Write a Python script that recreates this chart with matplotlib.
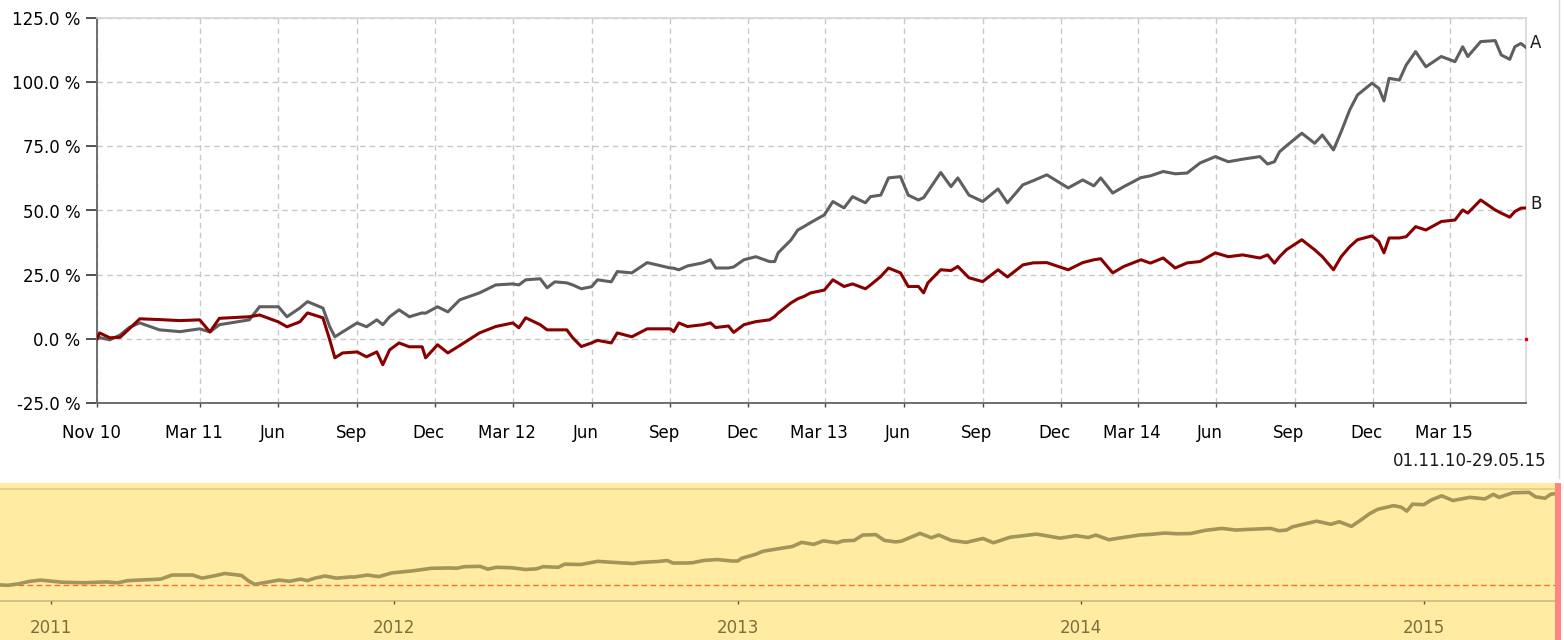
import matplotlib
matplotlib.use("Agg")
import matplotlib.pyplot as plt
import matplotlib.transforms as mtrans
import pandas as pd

# ---- data ----
DATES = [
    "2010-11-01", "2010-11-04", "2010-11-16", "2010-11-28", "2010-12-09", "2010-12-21",
    "2011-01-13", "2011-02-06", "2011-03-01", "2011-03-13", "2011-03-24", "2011-04-28",
    "2011-05-10", "2011-06-01", "2011-06-11", "2011-06-26", "2011-07-05", "2011-07-23",
    "2011-07-31", "2011-08-06", "2011-08-15", "2011-09-01", "2011-09-12", "2011-09-24",
    "2011-10-01", "2011-10-09", "2011-10-20", "2011-11-01", "2011-11-16", "2011-11-20",
    "2011-12-04", "2011-12-16", "2011-12-30", "2012-01-22", "2012-02-10", "2012-03-01",
    "2012-03-08", "2012-03-16", "2012-04-02", "2012-04-10", "2012-04-19", "2012-05-03",
    "2012-05-10", "2012-05-20", "2012-06-01", "2012-06-08", "2012-06-24", "2012-07-01",
    "2012-07-18", "2012-08-05", "2012-09-01", "2012-09-05", "2012-09-11", "2012-09-21",
    "2012-10-09", "2012-10-18", "2012-10-24", "2012-11-08", "2012-11-14", "2012-11-26",
    "2012-12-10", "2012-12-26", "2013-01-01", "2013-01-05", "2013-01-20", "2013-01-28",
    "2013-02-04", "2013-02-12", "2013-02-28", "2013-03-10", "2013-03-23", "2013-04-02",
    "2013-04-17", "2013-04-23", "2013-05-05", "2013-05-14", "2013-05-28", "2013-06-06",
    "2013-06-18", "2013-06-24", "2013-06-29", "2013-07-14", "2013-07-26", "2013-08-03",
    "2013-08-16", "2013-09-01", "2013-09-19", "2013-09-30", "2013-10-18", "2013-10-30",
    "2013-11-15", "2013-12-10", "2013-12-27", "2014-01-09", "2014-01-17", "2014-01-31",
    "2014-02-13", "2014-03-05", "2014-03-16", "2014-03-31", "2014-04-14", "2014-04-28",
    "2014-05-13", "2014-05-31", "2014-06-15", "2014-07-02", "2014-07-22", "2014-07-31",
    "2014-08-08", "2014-08-14", "2014-08-22", "2014-09-09", "2014-09-24", "2014-10-03",
    "2014-10-16", "2014-10-25", "2014-11-04", "2014-11-13", "2014-11-30", "2014-12-08",
    "2014-12-14", "2014-12-20", "2015-01-01", "2015-01-09", "2015-01-20", "2015-02-01",
    "2015-02-19", "2015-03-07", "2015-03-16", "2015-03-22", "2015-04-06", "2015-04-23",
    "2015-04-30", "2015-05-10", "2015-05-16", "2015-05-23", "2015-05-29",
]

SERIES_A = [
    0.0, 0.5, -0.4, 1.5, 4.5, 6.2,
    3.5, 2.8, 3.9, 2.7, 5.5, 7.4,
    12.5, 12.5, 8.6, 12.0, 14.5, 12.0,
    4.7, 0.8, 2.7, 6.2, 4.7, 7.4,
    5.5, 8.6, 11.3, 8.6, 10.1, 10.0,
    12.5, 10.5, 15.2, 17.9, 21.0, 21.4,
    21.0, 23.0, 23.4, 19.9, 22.2, 21.8,
    21.0, 19.5, 20.3, 23.0, 22.2, 26.2,
    25.7, 29.7, 27.6, 27.5, 26.9, 28.4,
    29.6, 30.8, 27.6, 27.6, 28.0, 30.8,
    32.0, 30.1, 30.1, 33.5, 38.5, 42.4,
    43.7, 45.3, 48.3, 53.5, 51.0, 55.4,
    53.0, 55.4, 56.0, 62.7, 63.2, 56.0,
    54.1, 55.0, 57.4, 64.8, 59.3, 62.7,
    56.0, 53.5, 58.4, 53.0, 60.0, 61.6,
    63.9, 58.8, 61.9, 59.6, 62.7, 56.8,
    59.3, 62.8, 63.5, 65.2, 64.3, 64.6,
    68.5, 71.0, 69.0, 70.0, 71.0, 68.1,
    69.0, 72.9, 75.2, 80.1, 76.2, 79.4,
    73.6, 80.7, 89.2, 95.0, 99.6, 97.6,
    92.7, 101.5, 100.8, 106.7, 111.9, 106.0,
    110.0, 108.0, 113.8, 110.0, 115.8, 116.2,
    110.6, 108.9, 113.8, 115.1, 113.5,
]

SERIES_B = [
    0.0, 2.3, 0.4, 0.6, 4.0, 7.8,
    7.5, 7.1, 7.4, 2.7, 8.0, 8.6,
    9.3, 6.6, 4.7, 6.6, 10.1, 8.2,
    -0.4, -7.4, -5.5, -5.1, -7.0, -5.1,
    -10.1, -4.3, -1.6, -3.1, -3.1, -7.4,
    -2.3, -5.5, -2.6, 2.3, 4.8, 6.2,
    4.3, 8.2, 5.5, 3.5, 3.5, 3.5,
    0.4, -3.0, -1.6, -0.6, -1.6, 2.3,
    0.8, 3.9, 3.9, 2.8, 6.2, 4.8,
    5.5, 6.2, 4.4, 5.0, 2.5, 5.5,
    6.7, 7.4, 8.7, 10.0, 14.0, 15.6,
    16.5, 17.9, 19.0, 23.0, 20.4, 21.4,
    19.5, 21.0, 24.3, 27.6, 25.7, 20.4,
    20.4, 17.9, 21.8, 26.9, 26.6, 28.2,
    23.8, 22.3, 26.9, 24.1, 28.8, 29.6,
    29.7, 26.9, 29.7, 30.8, 31.2, 25.7,
    28.2, 30.8, 29.5, 31.5, 27.6, 29.6,
    30.1, 33.5, 32.0, 32.7, 31.5, 32.7,
    29.5, 32.0, 34.7, 38.6, 34.7, 32.0,
    26.9, 32.0, 35.9, 38.6, 40.1, 37.9,
    33.5, 39.3, 39.3, 39.8, 43.7, 42.4,
    45.7, 46.3, 50.2, 49.0, 54.1, 50.2,
    49.0, 47.4, 49.6, 50.9, 51.0,
]

SERIES_NAMES = ["A", "B"]

TICK_DATES = [
    "2010-11-01", "2011-03-01", "2011-06-01", "2011-09-01", "2011-12-01",
    "2012-03-01", "2012-06-01", "2012-09-01", "2012-12-01",
    "2013-03-01", "2013-06-01", "2013-09-01", "2013-12-01",
    "2014-03-01", "2014-06-01", "2014-09-01", "2014-12-01", "2015-03-01",
]
TICK_LABELS = [
    "Nov 10", "Mar 11", "Jun", "Sep", "Dec",
    "Mar 12", "Jun", "Sep", "Dec",
    "Mar 13", "Jun", "Sep", "Dec",
    "Mar 14", "Jun", "Sep", "Dec", "Mar 15",
]
Y_TICKS = [-25, 0, 25, 50, 75, 100, 125]
NAV_YEARS = ["2011-01-01", "2012-01-01", "2013-01-01", "2014-01-01", "2015-01-01"]
RANGE_TEXT = "01.11.10-29.05.15"

# ---- style ----
GREY = "#5f5f5f"
DARKRED = "#880000"
GRID = "#c8c8c8"
NAV_BG = "#ffeba2"
NAV_LINE = "#a3955a"
NAV_TEXT = "#7d6f3c"

plt.rcParams.update({
    "font.family": "DejaVu Sans",
    "font.size": 12,
    "text.color": "#1a1a1a",
})

dates = pd.to_datetime(DATES)
W, H = 1564, 640
fig = plt.figure(figsize=(W / 100, H / 100), dpi=100)

# ---- main chart ----
ax = fig.add_axes([97 / W, 1 - 403 / H, (1526 - 97) / W, (403 - 18) / H])
ax.plot(dates, SERIES_A, color=GREY, lw=2.2, zorder=3)
ax.plot(dates, SERIES_B, color=DARKRED, lw=2.2, zorder=3)

ax.set_xlim(dates[0], dates[-1])
ax.set_ylim(Y_TICKS[0], Y_TICKS[-1])
ax.set_yticks(Y_TICKS)
ax.set_yticklabels([f"{v:.1f} %" for v in Y_TICKS])
ax.set_xticks(pd.to_datetime(TICK_DATES))
ax.set_xticklabels(TICK_LABELS)
ax.tick_params(axis="y", length=8, width=1.3, color="#444444", pad=4, labelsize=12)
ax.tick_params(axis="x", length=3, width=1.0, color="#444444", pad=12, labelsize=12)
shift = mtrans.ScaledTranslation(-6 / 100, 0, fig.dpi_scale_trans)
for lab in ax.get_xticklabels():
    lab.set_transform(lab.get_transform() + shift)

ax.grid(True, color=GRID, ls=(0, (4, 3)), lw=1.0)
for side in ["left", "bottom"]:
    ax.spines[side].set_color("#6e6e6e")
    ax.spines[side].set_linewidth(1.4)
for side in ["top", "right"]:
    ax.spines[side].set_color("#d6d6d6")
    ax.spines[side].set_linewidth(1.2)

# series names at the end of each line
for name, vals in zip(SERIES_NAMES, [SERIES_A, SERIES_B]):
    ax.annotate(name, (dates[-1], vals[-1]), xytext=(3, 3), textcoords="offset points",
                va="center", ha="left", fontsize=12, annotation_clip=False)

# tiny red marker at zero on right edge
ax.plot([dates[-1]], [0], marker="s", ms=1.5, color="#e00000", clip_on=False, zorder=4)

fig.text(1547 / W, 1 - 461 / H, RANGE_TEXT, ha="right", va="center", fontsize=12)
fig.add_artist(plt.Line2D([1559 / W, 1559 / W], [1 - 478 / H, 1], color="#d8d8d8", lw=1))

# ---- navigator ----
nav = fig.add_axes([0, 0, 1561 / W, 157 / H])
nav.set_facecolor(NAV_BG)
nav.plot(dates, SERIES_A, color=NAV_LINE, lw=2.6, zorder=3)
nav.axhline(0, color="#ff6a2a", ls=(0, (4, 2.5)), lw=1.0, zorder=2)
nav.set_xlim(pd.Timestamp("2010-11-08"), pd.Timestamp("2015-05-27"))
nav.set_ylim(-69, 128)
nav.set_xticks([])
nav.set_yticks([])
for s in nav.spines.values():
    s.set_visible(False)
nav.axhline(128 - (489 - 483) / 157 * 197, color="#e2d08c", lw=1.4)
nav.axhline(128 - (601 - 483) / 157 * 197, color="#d3c184", lw=1.4)

blend = mtrans.blended_transform_factory(nav.transData, nav.transAxes)
yrs = pd.to_datetime(NAV_YEARS)
y_axis = (640 - 601) / 157
nav.vlines(yrs, y_axis - 3 / 157, y_axis, transform=blend, color="#555555", lw=1)
for d in yrs:
    nav.text(d, (640 - 628) / 157, str(d.year), transform=blend, ha="center",
             va="center", fontsize=12, color=NAV_TEXT)

# selection handle on the right
fig.add_artist(plt.Rectangle((1555 / W, 0), 6 / W, 157 / H, color="#ff8585", lw=0))

fig.savefig("out.png", dpi=100)
